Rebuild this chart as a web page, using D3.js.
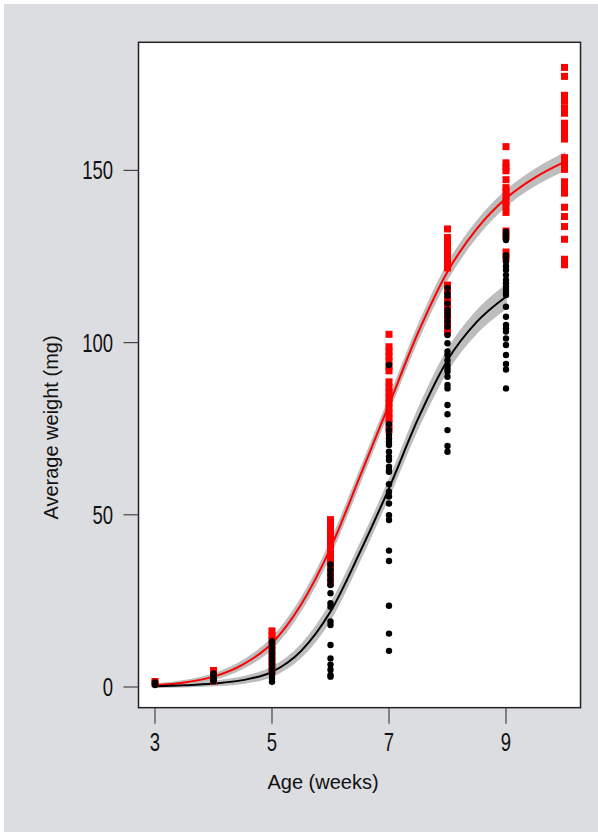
<!DOCTYPE html>
<html>
<head>
<meta charset="utf-8">
<script src="https://cdn.jsdelivr.net/npm/d3@7"></script>
<style>
  body { margin: 0; background: #fff; }
  .tick-label { font-family: "Liberation Sans", Arial, sans-serif; font-size: 25px; fill: #111; }
  .axis-title { font-family: "Liberation Sans", Arial, sans-serif; font-size: 20px; fill: #111; }
</style>
</head>
<body>
<div class="chart"></div>
<script>
// tick labels
var xTicks = [3, 5, 7, 9];
var yTicks = [0, 50, 100, 150];
var xTitle = "Age (weeks)";
var yTitle = "Average weight (mg)";

// raw points, one list per week (red squares)
var redWeeks = [3, 4, 5, 6, 7, 8, 9, 10];
var redWeights = [
    [1.0, 1.6],
    [1.8, 2.8, 3.8, 4.8],
    [4.5, 6, 7.5, 9, 10.5, 12, 13.5, 15, 16.3],
    [30.2, 31.5, 33, 34.5, 36, 37.5, 39, 41, 42.5, 44, 45.5, 47, 48.6],
    [74.6, 76.5, 78, 79.5, 81, 82.5, 84, 85.5, 87, 88.6, 91.8, 93, 94.5, 96, 97.5, 98.8, 102.4],
    [103, 105, 106.5, 108, 109.5, 111, 112.5, 115, 116.7, 121.7, 123, 124.5, 126, 127.5, 129, 130.5, 133],
    [124.6, 126.3, 130.8, 132.4, 137.8, 139.5, 141, 142.5, 144, 145, 147.3, 149.9, 151, 152.2, 156.9],
    [122.6, 124.2, 130.0, 133.7, 136.6, 139.3, 143.4, 145.1, 146.7, 150.3, 152.1, 153.7, 159.1, 160.8, 162.2, 163.7, 166.6, 168.2, 170.2, 171.8, 177.3, 179.9]
];

// black dots
var blackWeeks = [3, 4, 5, 6, 7, 8, 9];
var blackWeights = [
    [0.6, 1.0, 1.3],
    [1.7, 2.2, 2.7, 3.2, 3.9],
    [1.5, 2.5, 3.5, 4.5, 5.5, 6.5, 7.5, 8.5, 9.5, 10.5, 11.5, 12.5, 13.3],
    [3.0, 3.5, 5.0, 6.5, 8.3, 12.2, 18.0, 19.0, 23.3, 24.3, 27.2, 29.6, 31.1, 32.5, 34.0, 35.6],
    [10.5, 15.5, 23.6, 36.6, 39.6, 48.5, 49.9, 53.3, 55.3, 56.7, 58.9, 62.5, 63.0, 64.0, 65.9, 66.9, 68.3, 70.3, 71.2, 72.2, 73.2, 74.6, 76.3, 93.5],
    [68.3, 70.0, 74.6, 79.2, 81.9, 86.7, 87.7, 90.1, 91.6, 92.5, 93.5, 94.9, 96.4, 97.4, 99.8, 102.2, 104.6, 106.1, 107.5, 108.5, 109.5, 111.4, 113.6, 114.1, 115.9],
    [86.7, 92.2, 93.8, 96.4, 99.3, 101.2, 103.2, 104.1, 105.1, 107.5, 110.4, 113.8, 114.5, 115.3, 116.2, 117.2, 118.2, 119.6, 121.1, 122.2, 123.5, 124.8, 125.4, 129.8, 130.6, 131.2, 132.2]
];

// fitted curves, with half width of the grey band
var redFitAge = [3, 3.5, 4, 4.5, 5, 5.5, 6, 6.5, 7, 7.5, 8, 8.5, 9, 9.5, 10];
var redFit = [0.5, 1.3, 3.0, 6.5, 12.7, 24, 40.3, 61, 82, 103, 120.6, 133, 141.9, 148, 152.5];
var redBand = [0.3, 0.5, 0.8, 1.1, 1.5, 1.7, 1.8, 1.8, 1.7, 2.0, 2.2, 2.2, 2.2, 2.3, 2.5];

var blackFitAge = [3, 3.5, 4, 4.5, 5, 5.5, 6, 6.5, 7, 7.5, 8, 8.5, 9];
var blackFit = [0.2, 0.5, 1.0, 2.0, 4.4, 10.5, 21.9, 39, 57.7, 78, 94.9, 106, 113.3];
var blackBand = [0.3, 0.4, 0.6, 0.9, 1.3, 1.8, 2.3, 2.3, 2.3, 2.7, 3.0, 3.2, 3.4];

var W = 598, H = 832;

var svg = d3.select(".chart")
    .append("svg")
    .attr("width", W)
    .attr("height", H);

svg.append("rect")
    .attr("x", 4).attr("y", 4)
    .attr("width", W - 4).attr("height", H - 4)
    .style("fill", "#dcdde0");

var xScale = d3.scaleLinear()
    .domain([3, 9])
    .range([155, 506]);

var yScale = d3.scaleLinear()
    .domain([0, 150])
    .range([687, 170.4]);

// plot box goes a bit past the data range
var box = {x0: xScale(2.718), x1: xScale(10.274), y0: yScale(187.2), y1: yScale(-6.0)};

svg.append("rect")
    .attr("x", box.x0).attr("y", box.y0)
    .attr("width", box.x1 - box.x0)
    .attr("height", box.y1 - box.y0)
    .style("fill", "#fff");

function fitRows(ages, fit, band) {
    return ages.map(function (a, i) {
        return {age: a, v: fit[i], lo: fit[i] - band[i], hi: fit[i] + band[i]};
    });
}

var redRows = fitRows(redFitAge, redFit, redBand);
var blackRows = fitRows(blackFitAge, blackFit, blackBand);

var area = d3.area()
    .curve(d3.curveMonotoneX)
    .x(function (d) { return xScale(d.age); })
    .y0(function (d) { return yScale(d.lo); })
    .y1(function (d) { return yScale(d.hi); });

var line = d3.line()
    .curve(d3.curveMonotoneX)
    .x(function (d) { return xScale(d.age); })
    .y(function (d) { return yScale(d.v); });

[redRows, blackRows].forEach(function (rows) {
    svg.append("path")
        .attr("d", area(rows))
        .style("fill", "#bdbdbd")
        .style("stroke", "#bdbdbd")
        .style("stroke-width", 1.5);
});

svg.append("path")
    .attr("d", line(redRows))
    .style("fill", "none")
    .style("stroke", "#ff0000")
    .style("stroke-width", 2);

svg.append("path")
    .attr("d", line(blackRows))
    .style("fill", "none")
    .style("stroke", "#000")
    .style("stroke-width", 2);

// flatten the per-week lists
function flatten(weeks, weights) {
    var out = [];
    weeks.forEach(function (w, i) {
        weights[i].forEach(function (v) { out.push({age: w, v: v}); });
    });
    return out;
}

var sq = 7;
svg.append("g")
    .selectAll("rect")
    .data(flatten(redWeeks, redWeights))
    .enter().append("rect")
    .attr("x", function (d) { return xScale(d.age) - sq / 2; })
    .attr("y", function (d) { return yScale(d.v) - sq / 2; })
    .attr("width", sq)
    .attr("height", sq)
    .style("fill", "#ff0000");

svg.append("g")
    .selectAll("circle")
    .data(flatten(blackWeeks, blackWeights))
    .enter().append("circle")
    .attr("cx", function (d) { return xScale(d.age); })
    .attr("cy", function (d) { return yScale(d.v); })
    .attr("r", 3.2)
    .style("fill", "#000");

// frame
svg.append("rect")
    .attr("x", box.x0).attr("y", box.y0)
    .attr("width", box.x1 - box.x0)
    .attr("height", box.y1 - box.y0)
    .style("fill", "none")
    .style("stroke", "#222")
    .style("stroke-width", 1.5);

// ticks, drawn by hand outside the frame like base R
// tick numbers are a condensed face in the original -> squeeze them
var squeeze = 0.74;

var xAxisG = svg.append("g");
xAxisG.selectAll("line")
    .data(xTicks)
    .enter().append("line")
    .attr("x1", function (d) { return xScale(d); })
    .attr("x2", function (d) { return xScale(d); })
    .attr("y1", box.y1)
    .attr("y2", box.y1 + 16)
    .style("stroke", "#444")
    .style("stroke-width", 1.2);
xAxisG.selectAll("text")
    .data(xTicks)
    .enter().append("text")
    .attr("class", "tick-label")
    .attr("transform", function (d) {
        return "translate(" + xScale(d) + ",751) scale(" + squeeze + ",1)";
    })
    .attr("text-anchor", "middle")
    .text(function (d) { return d; });

var yAxisG = svg.append("g");
yAxisG.selectAll("line")
    .data(yTicks)
    .enter().append("line")
    .attr("x1", box.x0 - 15)
    .attr("x2", box.x0)
    .attr("y1", function (d) { return yScale(d); })
    .attr("y2", function (d) { return yScale(d); })
    .style("stroke", "#444")
    .style("stroke-width", 1.2);
yAxisG.selectAll("text")
    .data(yTicks)
    .enter().append("text")
    .attr("class", "tick-label")
    .attr("transform", function (d) {
        return "translate(113," + (yScale(d) + 9) + ") scale(" + squeeze + ",1)";
    })
    .attr("text-anchor", "end")
    .text(function (d) { return d; });

svg.append("text")
    .attr("class", "axis-title")
    .attr("x", 323)
    .attr("y", 789)
    .attr("text-anchor", "middle")
    .text(xTitle);

svg.append("text")
    .attr("class", "axis-title")
    .attr("transform", "translate(57.5,427.5) rotate(-90)")
    .attr("text-anchor", "middle")
    .text(yTitle);
</script>
</body>
</html>
